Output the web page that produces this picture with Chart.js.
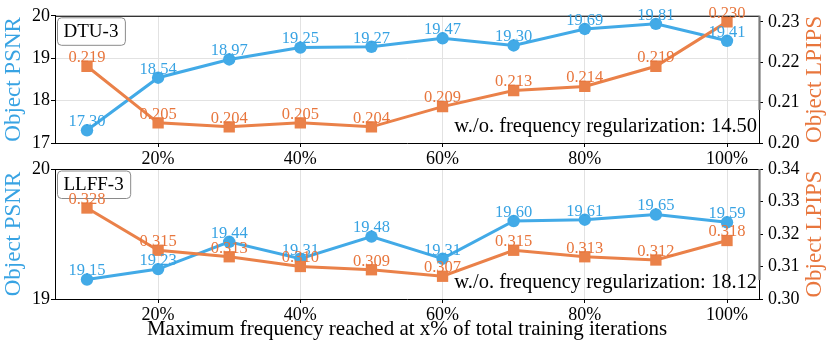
<!DOCTYPE html>
<html><head><meta charset="utf-8">
<script src="https://cdn.jsdelivr.net/npm/chart.js@4.4.0/dist/chart.umd.min.js"></script>
<style>
body{margin:0;background:#fff;width:830px;height:350px;overflow:hidden;position:relative}
.c{position:absolute;left:0;width:830px}
canvas{display:block}
</style></head><body>
<div class="c" style="top:0;height:175px"><canvas id="c1" width="830" height="175"></canvas></div>
<div class="c" style="top:150px;height:200px"><canvas id="c2" width="830" height="200"></canvas></div>
<script>
// ---- data ----
const xPercent   = [10, 20, 30, 40, 50, 60, 70, 80, 90, 100];
const dtuPsnr    = [17.30, 18.54, 18.97, 19.25, 19.27, 19.47, 19.30, 19.69, 19.81, 19.41];
const dtuLpips   = [0.219, 0.205, 0.204, 0.205, 0.204, 0.209, 0.213, 0.214, 0.219, 0.230];
const llffPsnr   = [19.15, 19.23, 19.44, 19.31, 19.48, 19.31, 19.60, 19.61, 19.65, 19.59];
const llffLpips  = [0.328, 0.315, 0.313, 0.310, 0.309, 0.307, 0.315, 0.313, 0.312, 0.318];
const xTicks          = [20, 40, 60, 80, 100];
const dtuPsnrTicks    = [17, 18, 19, 20];
const dtuLpipsTicks   = [0.20, 0.21, 0.22, 0.23];
const llffPsnrTicks   = [19, 20];
const llffLpipsTicks  = [0.30, 0.31, 0.32, 0.33, 0.34];
const dtuName = 'DTU-3', llffName = 'LLFF-3';
const dtuNote = 'w./o. frequency regularization: 14.50';
const llffNote = 'w./o. frequency regularization: 18.12';
const xTitle = 'Maximum frequency reached at x% of total training iterations';
const leftTitle = 'Object PSNR', rightTitle = 'Object LPIPS';

// ---- style ----
const FONT = "'Liberation Serif', serif";
const BLUE = '#42aae7', ORANGE = '#ea8149';
const BLUE_T = '#38a3e3', ORANGE_T = '#e8763d';
const GRID = '#e2e2e2';

const deco = {
  id: 'deco',
  afterDatasetsDraw(chart, args, o) {
    const ctx = chart.ctx, a = chart.chartArea;
    ctx.save();
    // border top + right spine
    ctx.strokeStyle = '#000'; ctx.lineWidth = 1;
    ctx.beginPath(); ctx.moveTo(a.left, a.top + 0.5); ctx.lineTo(a.right, a.top + 0.5); ctx.stroke();
    ctx.beginPath(); ctx.moveTo(a.right + 0.5, a.top); ctx.lineTo(a.right + 0.5, a.bottom); ctx.stroke();
    ctx.strokeStyle = '#7a7a7a'; ctx.lineWidth = 2.2;
    ctx.beginPath(); ctx.moveTo(a.right + 0.5, a.top); ctx.lineTo(a.right + 0.5, o.grayEnd); ctx.stroke();
    // panel box
    ctx.font = "19px " + FONT;
    ctx.textAlign = 'left'; ctx.textBaseline = 'middle';
    const tw = ctx.measureText(o.name).width;
    const bx = a.left + 2, by = a.top + 1.5, bw = tw + 13, bh = 27.5;
    ctx.beginPath(); ctx.roundRect(bx + 0.5, by + 0.5, bw, bh, 4);
    ctx.fillStyle = '#fff'; ctx.fill();
    ctx.strokeStyle = '#8a8a8a'; ctx.lineWidth = 1; ctx.stroke();
    ctx.fillStyle = '#000';
    ctx.fillText(o.name, bx + 6.5, by + bh / 2 + 1);
    // data labels
    chart.data.datasets.forEach((ds, di) => {
      const meta = chart.getDatasetMeta(di);
      ctx.fillStyle = ds.labelColor;
      ctx.font = "16.5px " + FONT;
      ctx.textAlign = 'center';
      ctx.textBaseline = 'middle';
      meta.data.forEach((pt, i) => {
        ctx.fillText(ds.data[i].y.toFixed(ds.digits), pt.x, pt.y - 8.5);
      });
    });
    // note
    ctx.fillStyle = '#000';
    ctx.font = "20.5px " + FONT;
    ctx.textAlign = 'right'; ctx.textBaseline = 'middle';
    ctx.fillText(o.note, a.right - 2, a.bottom - 16);
    // right title
    ctx.save();
    ctx.translate(815, (a.top + a.bottom) / 2);
    ctx.rotate(-Math.PI / 2);
    ctx.textAlign = 'center'; ctx.textBaseline = 'middle';
    ctx.font = "23px " + FONT;
    ctx.fillStyle = ORANGE_T;
    ctx.fillText(o.rightTitle, 0, 0);
    ctx.restore();
    ctx.restore();
  }
};

function makeChart(id, cfg) {
  const setTicks = vals => s => { s.ticks = vals.map(v => ({ value: v })); };
  return new Chart(document.getElementById(id), {
    type: 'line',
    data: {
      datasets: [
        { data: xPercent.map((x, i) => ({ x, y: cfg.psnr[i] })), yAxisID: 'y', order: 2,
          borderColor: BLUE, backgroundColor: BLUE, pointBackgroundColor: BLUE, pointBorderWidth: 0,
          pointRadius: 6.2, pointStyle: 'circle', borderWidth: 3, tension: 0,
          digits: 2, labelColor: BLUE_T },
        { data: xPercent.map((x, i) => ({ x, y: cfg.lpips[i] })), yAxisID: 'y1', order: 1,
          borderColor: ORANGE, backgroundColor: ORANGE, pointBackgroundColor: ORANGE, pointBorderWidth: 0,
          pointRadius: 8, pointStyle: 'rect', borderWidth: 3, tension: 0,
          digits: 3, labelColor: ORANGE_T }
      ]
    },
    options: {
      responsive: false, animation: false,
      layout: { padding: { top: cfg.padTop, left: 0, right: 0, bottom: 0 } },
      plugins: { legend: { display: false }, tooltip: { enabled: false },
        deco: { name: cfg.name, note: cfg.note, grayEnd: cfg.grayEnd, rightTitle: rightTitle } },
      scales: {
        x: { type: 'linear', min: 5.5, max: 104.5, afterBuildTicks: setTicks(xTicks),
          afterFit: s => { s.height = cfg.xHeight; },
          ticks: { callback: v => v + '%', color: '#000', font: { family: FONT, size: 18 }, padding: 1, maxRotation: 0 },
          grid: { color: GRID, lineWidth: 1, tickColor: '#000', tickLength: 4 },
          border: { display: true, color: '#000', width: 1 },
          title: { display: !!cfg.xTitle, text: cfg.xTitle || '', color: '#000',
            font: { family: FONT, size: 21 }, padding: { top: 0, bottom: 8 } } },
        y: { position: 'left', min: cfg.yMin, max: cfg.yMax, afterBuildTicks: setTicks(cfg.yTicks),
          afterFit: s => { s.width = 55; },
          ticks: { callback: v => String(v), color: '#000', font: { family: FONT, size: 18 }, padding: 1 },
          grid: { color: GRID, lineWidth: 1, tickColor: '#000', tickLength: 4 },
          border: { display: true, color: '#000', width: 1 },
          title: { display: true, text: leftTitle, color: BLUE_T, font: { family: FONT, size: 23 }, padding: { top: 0, bottom: 0 } } },
        y1: { position: 'right', min: cfg.y1Min, max: cfg.y1Max, afterBuildTicks: setTicks(cfg.y1Ticks),
          afterFit: s => { s.width = 71; },
          ticks: { callback: v => v.toFixed(2), color: '#000', font: { family: FONT, size: 18 }, padding: 5 },
          grid: { drawOnChartArea: false, tickColor: '#000', tickLength: 4 },
          border: { display: false } }
      }
    },
    plugins: [deco]
  });
}

makeChart('c1', { psnr: dtuPsnr, lpips: dtuLpips, yMin: 17, yMax: 20, yTicks: dtuPsnrTicks,
  y1Min: 0.20, y1Max: 0.2315, y1Ticks: dtuLpipsTicks, padTop: 13, xHeight: 32,
  name: dtuName, note: dtuNote, grayEnd: 110 });
makeChart('c2', { psnr: llffPsnr, lpips: llffLpips, yMin: 19, yMax: 20, yTicks: llffPsnrTicks,
  y1Min: 0.30, y1Max: 0.34, y1Ticks: llffLpipsTicks, padTop: 19, xHeight: 51,
  name: llffName, note: llffNote, grayEnd: 130, xTitle: xTitle });
</script>
</body></html>
